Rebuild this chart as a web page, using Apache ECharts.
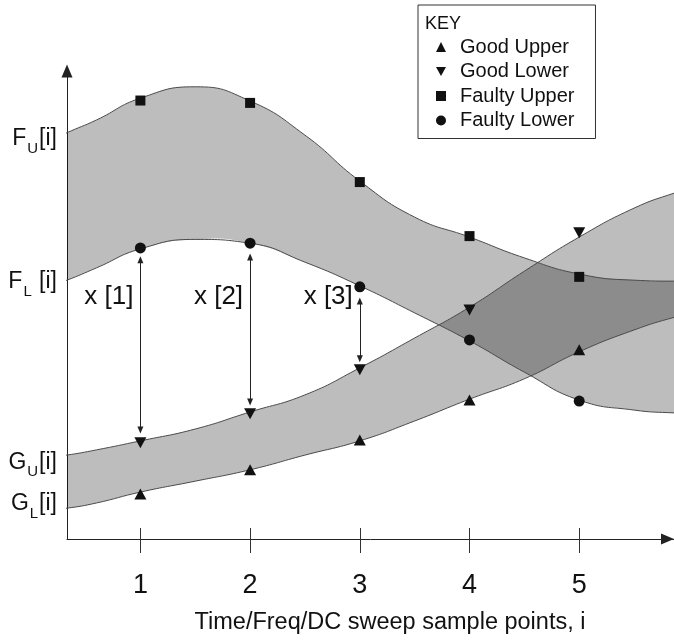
<!DOCTYPE html>
<html>
<head>
<meta charset="utf-8">
<script src="https://cdn.jsdelivr.net/npm/echarts@6/dist/echarts.min.js"></script>
<style>
  html, body { margin: 0; padding: 0; background: #fff; }
  #chart { width: 674px; height: 640px; }
</style>
</head>
<body>
<div id="chart"></div>
<script>
  // sample points on the x axis
  const sampleTicks = [1, 2, 3, 4, 5]

  // band outlines (x positions in sample units)
  const edgeX = [0.0, 0.33, 0.6, 1, 1.5, 2, 2.5, 3, 3.5, 4, 4.5, 5, 5.5, 5.87, 6.2]
  const faultyTop = [82.1, 85.7, 88.4, 93.0, 95.4, 92.4, 85.2, 75.5, 67.9, 63.7, 59.3, 55.9, 54.6, 54.4, 54.4]
  const faultyBottom = [51.9, 54.6, 57.2, 61.2, 63.2, 62.4, 58.4, 53.4, 47.7, 41.8, 35.2, 29.3, 27.2, 26.6, 26.4]
  const goodTop = [16.7, 17.7, 18.8, 20.7, 23.2, 26.8, 30.4, 36.1, 42.4, 48.9, 56.5, 63.7, 69.8, 73.0, 75.3]
  const goodBottom = [5.7, 6.5, 7.6, 9.9, 12.2, 14.6, 17.7, 20.7, 24.9, 29.5, 33.8, 39.5, 44.1, 46.8, 48.7]

  // marker values at the sample points
  const goodUpper = [9.5, 14.6, 20.9, 29.3, 39.9]
  const goodLower = [20.3, 26.4, 35.7, 48.3, 64.6]
  const faultyUpper = [92.5, 92.0, 75.3, 63.9, 55.3]
  const faultyLower = [61.4, 62.4, 53.2, 42.0, 29.1]

  // x[i] distance arrows
  const gapX = [1, 2, 3]
  const gapNames = ['x [1]', 'x [2]', 'x [3]']
  const gapTop = [58.9, 59.5, 50.2]
  const gapBottom = [23.0, 28.9, 38.0]
  const gapLabelY = 51.1

  // y axis labels
  const yTickValues = [84.5, 54.2, 16.2, 7.5]
  const yTickNames = ['{m|F}{s|U}{m|[i]}', '{m|F}{s|L}{m| [i]}', '{m|G}{s|U}{m|[i]}', '{m|G}{s|L}{m|[i]}']

  const legendNames = ['Good Upper', 'Good Lower', 'Faulty Upper', 'Faulty Lower']

  const font = '"Liberation Sans", Arial, Helvetica, sans-serif'
  const ink = '#111'
  const triDown = 'path://M0,0L10,0L5,9Z'
  const bands = [[faultyTop, faultyBottom], [goodTop, goodBottom]]

  function toPairs(values, xs) {
    return values.map((v, i) => [xs[i], v])
  }

  function renderBand(params, api) {
    const [top, bottom] = bands[params.dataIndex]
    const pts = top.map((v, i) => api.coord([edgeX[i], v]))
    for (let i = bottom.length - 1; i >= 0; i--) {
      pts.push(api.coord([edgeX[i], bottom[i]]))
    }
    return {
      type: 'polygon',
      shape: { points: pts, smooth: 0.5 },
      style: { fill: 'rgba(0,0,0,0.26)', stroke: null }
    }
  }

  function edgeSeries(values) {
    return {
      type: 'line',
      data: toPairs(values, edgeX),
      smooth: 0.5,
      showSymbol: false,
      symbol: 'none',
      silent: true,
      z: 2,
      lineStyle: { color: '#4a4a4a', width: 1 }
    }
  }

  function markerSeries(name, values, symbol, size) {
    return {
      name: name,
      type: 'scatter',
      data: toPairs(values, sampleTicks),
      symbol: symbol,
      symbolSize: size,
      z: 4,
      itemStyle: { color: ink, opacity: 1 }
    }
  }

  const chart = echarts.init(document.getElementById('chart'), null, { renderer: 'canvas' })

  chart.setOption({
    animation: false,
    backgroundColor: '#fff',
    textStyle: { fontFamily: font, color: ink },
    title: {
      text: 'KEY',
      left: 425,
      top: 15,
      padding: 0,
      textStyle: { fontSize: 18, fontWeight: 'normal', color: ink, fontFamily: font }
    },
    legend: {
      orient: 'vertical',
      left: 418,
      top: 5,
      padding: [32, 21, 8, 18],
      itemWidth: 10,
      itemHeight: 10,
      itemGap: 4.5,
      borderColor: '#333',
      borderWidth: 1,
      selectedMode: false,
      textStyle: { fontSize: 20, lineHeight: 19, color: ink, fontFamily: font, padding: [0, 0, 0, 9] },
      data: [
        { name: legendNames[0], icon: 'triangle' },
        { name: legendNames[1], icon: triDown },
        { name: legendNames[2], icon: 'path://M0,0L8,0L8,8L0,8Z' },
        { name: legendNames[3], icon: 'circle' }
      ]
    },
    grid: { left: 67, right: 0, top: 71, bottom: 101, outerBoundsMode: 'none', containLabel: false },
    xAxis: [
      {
        type: 'value',
        min: 0.331,
        max: 5.864,
        position: 'bottom',
        name: 'Time/Freq/DC sweep sample points, i',
        nameLocation: 'middle',
        nameGap: 72,
        nameMoveOverlap: false,
        nameTextStyle: { fontSize: 23.5, color: ink, fontFamily: font, padding: [0, 0, 0, 39] },
        axisLine: {
          onZero: false,
          symbol: ['none', 'triangle'],
          symbolSize: [11, 13],
          symbolOffset: [0, -6.5],
          lineStyle: { color: '#222', width: 1 }
        },
        axisTick: { customValues: sampleTicks, length: 14, lineStyle: { color: '#333', width: 1 } },
        axisLabel: { customValues: sampleTicks, margin: 33, fontSize: 27, color: ink, fontFamily: font },
        splitLine: { show: false }
      },
      {
        type: 'value',
        min: 0.331,
        max: 5.864,
        position: 'bottom',
        axisLine: { show: false, onZero: false },
        axisTick: { customValues: sampleTicks, inside: true, length: 11, lineStyle: { color: '#333', width: 1 } },
        axisLabel: { show: false },
        splitLine: { show: false }
      }
    ],
    yAxis: {
      type: 'value',
      min: 0,
      max: 98.73,
      axisLine: {
        show: true,
        onZero: false,
        symbol: ['none', 'triangle'],
        symbolSize: [11, 13],
        lineStyle: { color: '#222', width: 1 }
      },
      axisTick: { show: false },
      splitLine: { show: false },
      axisLabel: {
        customValues: yTickValues,
        margin: 10,
        formatter: (v) => yTickNames[yTickValues.indexOf(v)] || '',
        rich: {
          m: { fontSize: 23, color: ink, fontFamily: font },
          s: { fontSize: 15, color: ink, fontFamily: font, padding: [20, 1, 0, 1] }
        }
      }
    },
    series: [
      {
        type: 'custom',
        renderItem: renderBand,
        data: [[1, 0], [2, 0]],
        clip: true,
        silent: true,
        z: 1
      },
      edgeSeries(faultyTop),
      edgeSeries(faultyBottom),
      edgeSeries(goodTop),
      edgeSeries(goodBottom),
      markerSeries('Good Upper', goodUpper, 'triangle', [12, 11]),
      markerSeries('Good Lower', goodLower, triDown, [12, 11]),
      markerSeries('Faulty Upper', faultyUpper, 'rect', [10, 10]),
      markerSeries('Faulty Lower', faultyLower, 'circle', 11),
      {
        type: 'scatter',
        data: gapX.map((x) => [x, gapLabelY]),
        symbolSize: 0,
        itemStyle: { color: ink, opacity: 1 },
        z: 4,
        label: {
          show: true,
          position: 'left',
          distance: 7,
          opacity: 1,
          formatter: (p) => gapNames[p.dataIndex],
          fontSize: 26,
          color: ink,
          fontFamily: font
        },
        markLine: {
          silent: true,
          symbol: ['triangle', 'triangle'],
          symbolSize: [6, 7],
          label: { show: false },
          lineStyle: { color: '#222', width: 1, type: 'solid' },
          data: gapX.map((x, i) => [{ coord: [x, gapTop[i]] }, { coord: [x, gapBottom[i]] }])
        }
      }
    ]
  })
</script>
</body>
</html>
